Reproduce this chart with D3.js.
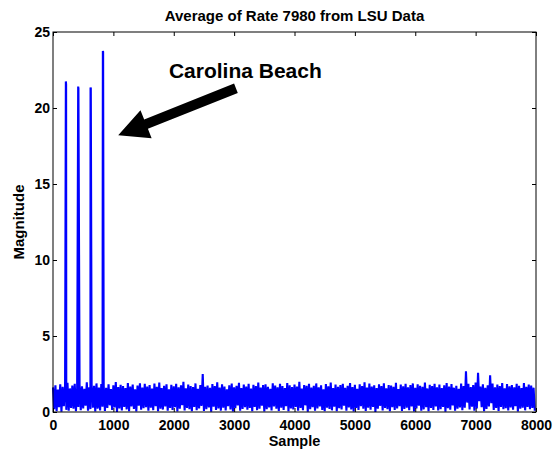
<!DOCTYPE html>
<html>
<head>
<meta charset="utf-8">
<script src="https://cdn.jsdelivr.net/npm/d3@7"></script>
<style>
  body { margin: 0; background: #fff; }
  text { font-family: "Liberation Sans", Arial, Helvetica, sans-serif; font-weight: bold; fill: #000; }
</style>
</head>
<body>
<svg id="chart" width="559" height="451"></svg>
<script>
// averaged magnitude, one reading every 20 samples (0 .. 7980)
const sampleStep = 20;
const magnitude = [
  1.62,0.18,1.75,0.05,1.48,0.31,1.83,0.02,1.66,0.38,1.71,0.14,1.92,0.09,1.55,0.27,1.74,0.21,1.86,0.06,
  1.58,0.33,1.81,0.12,1.69,0.24,1.52,0.41,1.95,0.08,1.63,0.19,1.78,0.29,1.72,0.03,1.88,0.22,1.61,0.11,
  1.84,0.35,1.73,0.07,1.59,0.26,1.82,0.44,1.51,0.13,1.76,0.30,1.97,0.01,1.64,0.23,1.79,0.10,1.70,0.34,
  1.57,0.17,1.91,0.06,1.68,0.36,1.80,0.20,1.49,0.04,1.74,0.42,1.89,0.15,1.60,0.25,1.85,0.32,1.67,0.09,
  1.77,0.28,1.54,0.12,1.87,0.39,1.65,0.05,1.93,0.21,1.58,0.16,1.72,0.37,1.83,0.08,1.50,0.26,1.79,0.14,
  1.69,0.31,1.86,0.03,1.62,0.22,1.75,0.45,1.98,0.10,1.56,0.27,1.81,0.18,1.71,0.06,1.64,0.33,1.88,0.12,
  1.53,0.24,1.78,0.40,2.50,0.07,1.66,0.19,1.74,0.30,1.59,0.02,1.84,0.35,1.70,0.13,1.95,0.23,1.61,0.09,
  1.82,0.29,1.67,0.11,1.49,0.38,1.76,0.16,1.87,0.04,1.63,0.25,1.73,0.43,1.92,0.08,1.57,0.20,1.80,0.32,
  1.68,0.15,1.85,0.27,1.55,0.06,1.79,0.34,1.71,0.12,1.94,0.22,1.60,0.41,1.77,0.03,1.83,0.18,1.65,0.30,
  1.52,0.10,1.89,0.36,1.74,0.21,1.62,0.07,1.86,0.28,1.70,0.14,1.58,0.39,1.91,0.05,1.76,0.24,1.64,0.17,
  1.81,0.33,1.67,0.09,1.99,0.26,1.54,0.12,1.78,0.44,1.72,0.02,1.85,0.19,1.60,0.31,1.73,0.08,1.88,0.23,
  1.63,0.37,1.75,0.14,1.50,0.05,1.84,0.29,1.69,0.20,1.93,0.11,1.57,0.35,1.80,0.06,1.66,0.25,1.77,0.16,
  1.86,0.42,1.59,0.08,1.72,0.30,1.90,0.17,1.64,0.03,1.79,0.26,1.53,0.13,1.83,0.38,1.71,0.21,1.96,0.07,
  1.61,0.28,1.87,0.15,1.68,0.34,1.75,0.01,1.58,0.22,1.82,0.40,1.70,0.10,1.89,0.27,1.56,0.18,1.78,0.05,
  1.74,0.32,1.65,0.13,1.92,0.24,1.51,0.39,1.80,0.07,1.69,0.20,1.85,0.29,1.62,0.12,1.77,0.36,1.88,0.04,
  1.59,0.23,1.83,0.41,1.72,0.09,1.66,0.17,1.94,0.31,1.55,0.06,1.79,0.26,1.70,0.14,1.86,0.37,1.63,0.11,
  1.81,0.19,1.57,0.33,1.76,0.02,1.90,0.25,1.68,0.15,1.84,0.43,1.60,0.08,1.73,0.22,1.52,0.30,1.87,0.12,
  1.70,0.28,2.68,0.62,1.85,0.16,1.64,0.35,1.78,0.09,1.93,0.24,2.58,0.71,1.67,0.31,1.82,0.05,1.59,0.20,
  1.75,0.36,2.42,0.58,1.88,0.13,1.62,0.27,1.80,0.07,1.71,0.34,1.91,0.18,1.56,0.25,1.84,0.10,1.69,0.30,
  1.77,0.15,1.63,0.38,1.86,0.04,1.72,0.22,1.58,0.29,1.90,0.11,1.66,0.33,1.81,0.19,1.74,0.26,1.60,0.08
];
// the four Carolina Beach readings
const spikeSamples = [213, 217, 417, 421, 622, 626, 826, 830];
const spikeValues = [21.75, 21.55, 21.42, 21.35, 21.35, 21.30, 23.75, 23.70];

const xTicks = [0, 1000, 2000, 3000, 4000, 5000, 6000, 7000, 8000];
const yTicks = [0, 5, 10, 15, 20, 25];

const titleText = 'Average of Rate 7980 from LSU Data';
const xLabel = 'Sample';
const yLabel = 'Magnitude';
const annotationText = 'Carolina Beach';
const annotationAt = [1920, 21.97];
const arrowFrom = [3030, 21.3];
const arrowTo = [1080, 18.2];

const svg = d3.select('#chart');
const margins = { left: 53, top: 32, right: 23, bottom: 39 };
const chartWidth = svg.attr('width') - margins.left - margins.right;
const chartHeight = svg.attr('height') - margins.top - margins.bottom;
const chartArea = svg.append('g').attr('transform', `translate(${margins.left},${margins.top})`);

const xScale = d3.scaleLinear().domain([0, 8000]).range([0, chartWidth]);
const yScale = d3.scaleLinear().domain([0, 25]).range([chartHeight, 0]);

// merge regular readings and spikes in sample order
let points = magnitude.map((v, i) => ({ sample: i * sampleStep, value: v }));
spikeSamples.forEach((s, i) => points.push({ sample: s, value: spikeValues[i] }));
points.sort((a, b) => a.sample - b.sample);

const line = d3.line().x(d => xScale(d.sample)).y(d => yScale(d.value));
chartArea.append('path')
  .datum(points)
  .attr('d', line)
  .attr('fill', 'none')
  .attr('stroke', '#0000ff')
  .attr('stroke-width', 2.1)
  .attr('stroke-linejoin', 'bevel');

// axes, MATLAB style: ticks pointing inward on all four sides
function styleAxis(g) {
  g.select('.domain').remove();
  g.selectAll('line').attr('stroke', '#000');
  g.selectAll('text').style('font-size', '14px');
}
chartArea.append('g')
  .attr('transform', `translate(0,${chartHeight})`)
  .call(d3.axisBottom(xScale).tickValues(xTicks).tickSize(-4).tickPadding(8).tickFormat(d3.format('d')))
  .call(styleAxis);
chartArea.append('g')
  .call(d3.axisTop(xScale).tickValues(xTicks).tickSize(-4).tickFormat(''))
  .call(styleAxis);
chartArea.append('g')
  .call(d3.axisLeft(yScale).tickValues(yTicks).tickSize(-4).tickPadding(3).tickFormat(d3.format('d')))
  .call(styleAxis);
chartArea.append('g')
  .attr('transform', `translate(${chartWidth},0)`)
  .call(d3.axisRight(yScale).tickValues(yTicks).tickSize(-4).tickFormat(''))
  .call(styleAxis);

chartArea.append('rect')
  .attr('width', chartWidth)
  .attr('height', chartHeight)
  .attr('fill', 'none')
  .attr('stroke', '#000')
  .attr('stroke-width', 1);

// labels
svg.append('text')
  .attr('x', margins.left + chartWidth / 2)
  .attr('y', 20.5)
  .attr('text-anchor', 'middle')
  .style('font-size', '15px')
  .text(titleText);
svg.append('text')
  .attr('x', margins.left + chartWidth / 2)
  .attr('y', 446)
  .attr('text-anchor', 'middle')
  .style('font-size', '14.5px')
  .text(xLabel);
svg.append('text')
  .attr('transform', `translate(24,${margins.top + chartHeight / 2}) rotate(-90)`)
  .attr('text-anchor', 'middle')
  .style('font-size', '15px')
  .text(yLabel);

// annotation
chartArea.append('text')
  .attr('x', xScale(annotationAt[0]))
  .attr('y', yScale(annotationAt[1]))
  .style('font-size', '21px')
  .text(annotationText);

const p0 = [xScale(arrowFrom[0]), yScale(arrowFrom[1])];
const p1 = [xScale(arrowTo[0]), yScale(arrowTo[1])];
const len = Math.hypot(p1[0] - p0[0], p1[1] - p0[1]);
const dir = [(p1[0] - p0[0]) / len, (p1[1] - p0[1]) / len];
const nrm = [-dir[1], dir[0]];
const headLen = 30, headHalf = 15, shaftHalf = 5;
const base = [p1[0] - dir[0] * headLen, p1[1] - dir[1] * headLen];
const off = (p, k) => [p[0] + nrm[0] * k, p[1] + nrm[1] * k];
const arrowPts = [off(p0, shaftHalf), off(base, shaftHalf), off(base, headHalf), p1,
  off(base, -headHalf), off(base, -shaftHalf), off(p0, -shaftHalf)];
chartArea.append('polygon')
  .attr('points', arrowPts.map(p => p.join(',')).join(' '))
  .attr('fill', '#000');
</script>
</body>
</html>
